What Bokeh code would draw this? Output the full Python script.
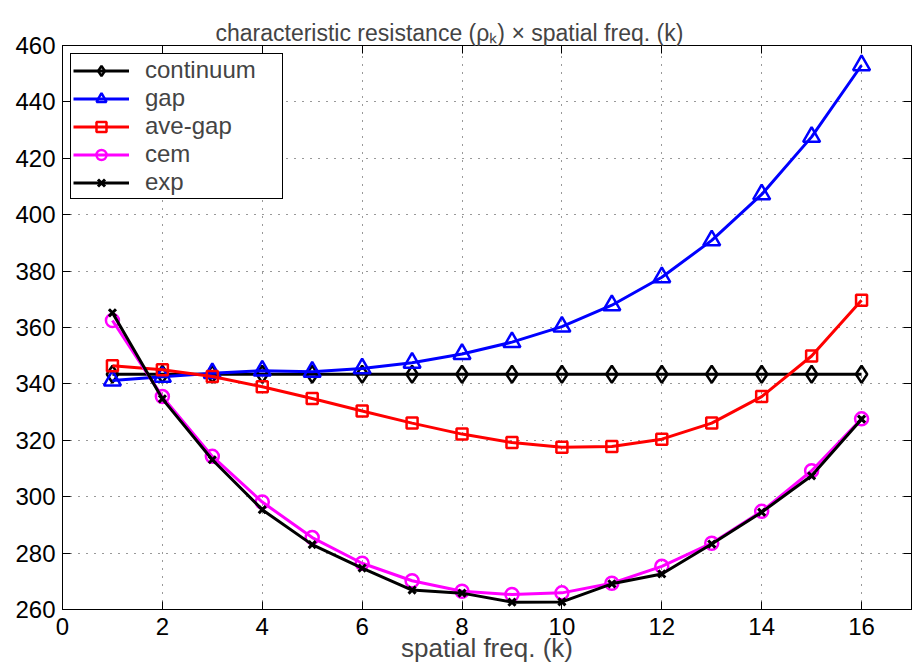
from bokeh.plotting import figure
from bokeh.models import FixedTicker, LinearAxis, Range1d
from bokeh.embed import file_html
from bokeh.resources import INLINE

k = [1, 2, 3, 4, 5, 6, 7, 8, 9, 10, 11, 12, 13, 14, 15, 16]
continuum = [343.4, 343.4, 343.4, 343.4, 343.4, 343.4, 343.4, 343.4,
             343.4, 343.4, 343.4, 343.4, 343.4, 343.4, 343.4, 343.4]
gap = [341.2, 342.5, 343.8, 344.7, 344.3, 345.5, 347.5, 350.6,
       354.8, 360.3, 367.9, 377.8, 390.9, 407.2, 427.6, 453.0]
ave_gap = [346.4, 345.0, 342.6, 339.0, 334.8, 330.4, 326.1, 322.2,
           319.2, 317.5, 317.8, 320.4, 326.1, 335.5, 349.9, 369.7]
cem = [362.5, 335.5, 314.3, 298.1, 285.5, 276.4, 270.2, 266.5,
       265.3, 265.9, 269.3, 275.3, 283.5, 294.8, 309.2, 327.6]
exp_ = [365.2, 334.7, 313.1, 295.4, 283.0, 274.7, 266.9, 265.8,
        262.6, 262.7, 269.1, 272.6, 283.2, 294.5, 307.4, 327.5]

x_ticks = [0, 2, 4, 6, 8, 10, 12, 14, 16]
y_ticks = [260, 280, 300, 320, 340, 360, 380, 400, 420, 440, 460]
title_text = "characteristic resistance (\u03c1\u2096) \u00d7 spatial freq. (k)"

FONT = "Liberation Sans"
W, H = 912, 672
BL, BT, BR, BB = 62, 45, 1, 63

p = figure(width=W, height=H, output_backend="svg", toolbar_location=None,
           x_range=Range1d(0, 17), y_range=Range1d(260, 460),
           min_border_left=BL, min_border_right=BR, min_border_top=BT,
           min_border_bottom=BB, background_fill_color="white",
           border_fill_color="white")

p.title.text = title_text
p.title.text_font = FONT
p.title.text_font_size = "23px"
p.title.text_font_style = "normal"
p.title.align = "left"
p.title.offset = 153
p.title.standoff = 0

p.outline_line_color = "black"
p.outline_line_width = 1
p.outline_line_alpha = 1

for ax in [p.xaxis[0], p.yaxis[0]]:
    ax.axis_line_color = "black"
    ax.major_tick_in = 8
    ax.major_tick_out = 0
    ax.minor_tick_in = 0
    ax.minor_tick_out = 0
    ax.major_tick_line_color = "black"
    ax.major_label_text_font = FONT
    ax.major_label_text_font_size = "24px"
    ax.major_label_text_color = "black"

p.xaxis.ticker = FixedTicker(ticks=x_ticks)
p.yaxis.ticker = FixedTicker(ticks=y_ticks)
p.xaxis.major_label_standoff = 8
p.yaxis.major_label_standoff = 7
p.xaxis.axis_label = "spatial freq. (k)"
p.xaxis.axis_label_text_font = FONT
p.xaxis.axis_label_text_font_size = "26px"
p.xaxis.axis_label_text_font_style = "normal"
p.xaxis.axis_label_standoff = -5

top = LinearAxis(ticker=FixedTicker(ticks=x_ticks),
                 major_label_overrides={t: "" for t in x_ticks},
                 major_tick_in=8, major_tick_out=0, minor_tick_in=0, minor_tick_out=0,
                 major_label_standoff=16, axis_line_color="black")
right = LinearAxis(ticker=FixedTicker(ticks=y_ticks),
                   major_label_overrides={t: "" for t in y_ticks},
                   major_tick_in=8, major_tick_out=0, minor_tick_in=0, minor_tick_out=0,
                   major_label_standoff=0, axis_line_color="black")
p.add_layout(top, "above")
p.add_layout(right, "right")

p.xgrid.ticker = FixedTicker(ticks=x_ticks)
p.ygrid.ticker = FixedTicker(ticks=y_ticks)
for g in [p.xgrid[0], p.ygrid[0]]:
    g.grid_line_color = "black"
    g.grid_line_dash = "1 7"
    g.grid_line_width = 1
    g.grid_line_alpha = 0.8

LW = 3
p.line(k, continuum, line_color="black", line_width=LW, legend_label="continuum")
p.scatter(k, continuum, marker="diamond", size=17, fill_color=None,
          line_color="black", line_width=2.5, legend_label="continuum")

p.line(k, gap, line_color="#0000FF", line_width=LW, legend_label="gap")
p.scatter(k, gap, marker="triangle", size=17, fill_color=None,
          line_color="#0000FF", line_width=2.5, legend_label="gap")

p.line(k, ave_gap, line_color="#FF0000", line_width=LW, legend_label="ave-gap")
p.scatter(k, ave_gap, marker="square", size=11, fill_color=None,
          line_color="#FF0000", line_width=2.5, legend_label="ave-gap")

p.line(k, cem, line_color="#FF00FF", line_width=LW, legend_label="cem")
p.scatter(k, cem, marker="circle", size=13, fill_color=None,
          line_color="#FF00FF", line_width=2.5, legend_label="cem")

p.line(k, exp_, line_color="black", line_width=LW, legend_label="exp")
p.scatter(k, exp_, marker="x", size=10, line_color="black", line_width=3,
          legend_label="exp")

lg = p.legend[0]
lg.location = "top_left"
lg.margin = 8
lg.padding = 2
lg.spacing = 0
lg.glyph_width = 56
lg.glyph_height = 25
lg.label_height = 25
lg.label_width = 135
lg.label_standoff = 16
lg.label_text_font = FONT
lg.label_text_font_size = "24px"
lg.label_text_baseline = "middle"
lg.border_line_color = "black"
lg.border_line_width = 1
lg.border_line_alpha = 1
lg.background_fill_color = "white"
lg.background_fill_alpha = 1

open("out.html", "w").write(file_html(p, INLINE))
